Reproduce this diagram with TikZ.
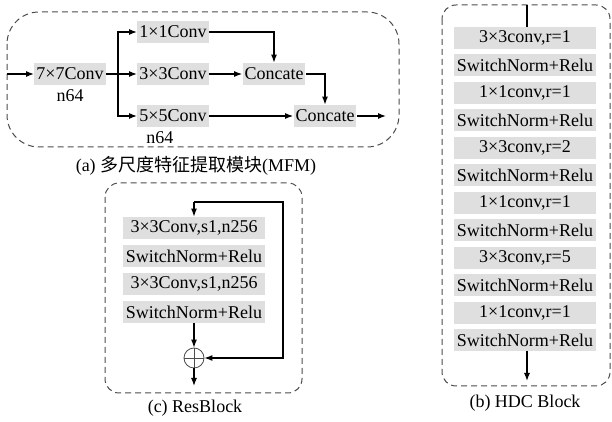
\documentclass[tikz,border=0pt]{standalone}
\usepackage{fontspec}
\setmainfont{Liberation Serif}
\newfontfamily\cjk{Noto Sans CJK SC}
\usepackage{tikz}
\usetikzlibrary{arrows.meta, positioning, shapes, shapes.geometric}

\begin{document}
\begin{tikzpicture}[
    x=0.5pt, y=-0.5pt,
    blk/.style   ={fill=gray!25, inner sep=1pt, minimum height=11pt,
                   font=\rmfamily\fontsize{9}{10}\selectfont},
    wblk/.style  ={blk, minimum width=71pt},
    plain/.style ={inner sep=1pt, font=\rmfamily\fontsize{9}{10}\selectfont},
    frame/.style ={draw=black!70, line width=0.5pt, dash pattern=on 3pt off 2pt},
    arr/.style   ={-{Latex[length=4pt, width=3pt]}, line width=0.6pt},
    ln/.style    ={line width=0.6pt},
    addop/.style ={circle, draw=black!70, line width=0.4pt, minimum size=10pt,
                   inner sep=0pt,
                   path picture={\draw[black!70, line width=0.4pt]
                       (path picture bounding box.west) -- (path picture bounding box.east)
                       (path picture bounding box.north) -- (path picture bounding box.south);}}
]
\useasboundingbox (0,0) rectangle (612,422);

%% ── MFM: multi-scale feature block ───────────────────────────────
\draw[frame, rounded corners=16pt] (7,12) rectangle (399,147);

\node[blk] (c7)   at (70,  74) {7×7Conv};
\node[plain] (c7n) at (70, 96) {n64};
\node[blk] (c1)   at (173, 32) {1×1Conv};
\node[blk] (c3)   at (173, 74) {3×3Conv};
\node[blk] (c5)   at (173,116) {5×5Conv};
\node[plain] (c5n) at (160,138) {n64};
\node[blk] (cat1) at (274, 74) {Concate};
\node[blk] (cat2) at (325,116) {Concate};

\coordinate (min)   at (7,   74);
\coordinate (split) at (118, 74);
\coordinate (mout)  at (386,116);

\draw[arr] (min) -- (c7);
\draw[ln]  (c7) -- (split);
\draw[arr] (split) |- (c1);
\draw[arr] (split) -- (c3);
\draw[arr] (split) |- (c5);
\draw[arr] (c1) -| (cat1);
\draw[arr] (c3) -- (cat1);
\draw[arr] (cat1) -| (cat2);
\draw[arr] (c5) -- (cat2);
\draw[arr] (cat2) -- (mout);

\node[plain] (capa) at (196,166) {(a) {\cjk 多尺度特征提取模块}(MFM)};

%% ── ResBlock ─────────────────────────────────────────────────────
\draw[frame, rounded corners=7pt] (105,183) rectangle (302,393);

\node[wblk] (r1) at (194,228) {3×3Conv,s1,n256};
\node[wblk] (r2) at (194,256) {SwitchNorm+Relu};
\node[wblk] (r3) at (194,284) {3×3Conv,s1,n256};
\node[wblk] (r4) at (194,312) {SwitchNorm+Relu};
\node[addop] (add) at (194,358) {};

\coordinate (rin)   at (194,202);
\coordinate (rskip) at (283,202);
\coordinate (rout)  at (194,386);

\draw[arr] (rin) -- (r1);
\draw[arr] (rin) -- (rskip) |- (add);
\draw[arr] (r4) -- (add);
\draw[arr] (add) -- (rout);

\node[plain] (capc) at (195,408) {(c) ResBlock};

%% ── HDC Block ────────────────────────────────────────────────────
\draw[frame, rounded corners=7pt] (442,5) rectangle (610,386);

\node[wblk] (h1)  at (525, 38) {3×3conv,r=1};
\node[wblk] (h2)  at (525, 65) {SwitchNorm+Relu};
\node[wblk] (h3)  at (525, 93) {1×1conv,r=1};
\node[wblk] (h4)  at (525,120) {SwitchNorm+Relu};
\node[wblk] (h5)  at (525,148) {3×3conv,r=2};
\node[wblk] (h6)  at (525,175) {SwitchNorm+Relu};
\node[wblk] (h7)  at (525,203) {1×1conv,r=1};
\node[wblk] (h8)  at (525,230) {SwitchNorm+Relu};
\node[wblk] (h9)  at (525,258) {3×3conv,r=5};
\node[wblk] (h10) at (525,285) {SwitchNorm+Relu};
\node[wblk] (h11) at (525,313) {1×1conv,r=1};
\node[wblk] (h12) at (525,340) {SwitchNorm+Relu};

\coordinate (hin)  at (527,  5);
\coordinate (hout) at (527,381);

\draw[ln]  (hin) -- (hin |- h1.north);
\draw[arr] (hout |- h12.south) -- (hout);

\node[plain] (capb) at (525,403) {(b) HDC Block};

\end{tikzpicture}
\end{document}
